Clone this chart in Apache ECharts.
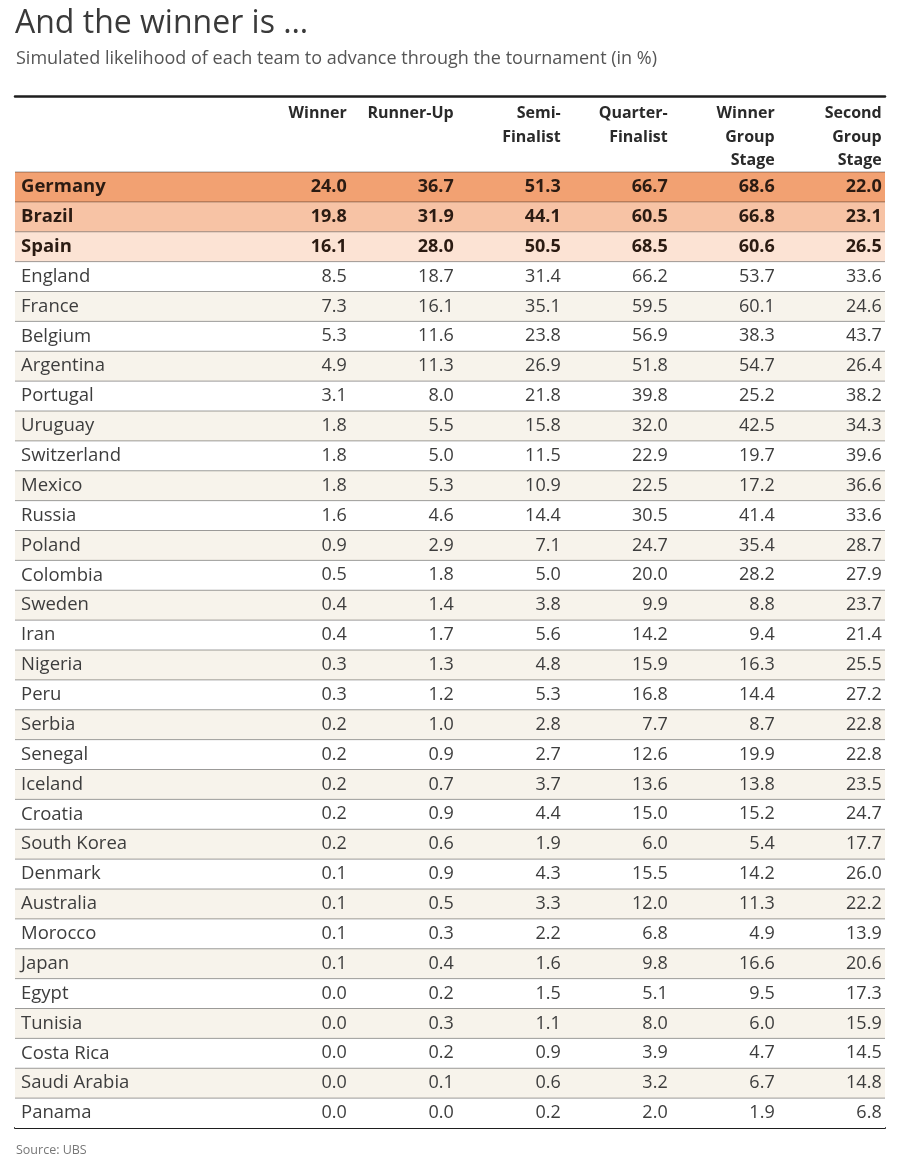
<!DOCTYPE html>
<html><head><meta charset="utf-8">
<script src="https://cdn.jsdelivr.net/npm/echarts@6/dist/echarts.min.js"></script>
<style>html,body{margin:0;padding:0;background:#fff}#chart{width:900px;height:1167px}</style>
</head><body><div id="chart"></div>
<script>
const teams = ['Germany','Brazil','Spain','England','France','Belgium','Argentina','Portugal','Uruguay','Switzerland','Mexico','Russia','Poland','Colombia','Sweden','Iran','Nigeria','Peru','Serbia','Senegal','Iceland','Croatia','South Korea','Denmark','Australia','Morocco','Japan','Egypt','Tunisia','Costa Rica','Saudi Arabia','Panama'];
const columns = ['Winner','Runner-Up','Semi-\nFinalist','Quarter-\nFinalist','Winner\nGroup\nStage','Second\nGroup\nStage'];
const winner = [24.0,19.8,16.1,8.5,7.3,5.3,4.9,3.1,1.8,1.8,1.8,1.6,0.9,0.5,0.4,0.4,0.3,0.3,0.2,0.2,0.2,0.2,0.2,0.1,0.1,0.1,0.1,0.0,0.0,0.0,0.0,0.0];
const runnerUp = [36.7,31.9,28.0,18.7,16.1,11.6,11.3,8.0,5.5,5.0,5.3,4.6,2.9,1.8,1.4,1.7,1.3,1.2,1.0,0.9,0.7,0.9,0.6,0.9,0.5,0.3,0.4,0.2,0.3,0.2,0.1,0.0];
const semiFinalist = [51.3,44.1,50.5,31.4,35.1,23.8,26.9,21.8,15.8,11.5,10.9,14.4,7.1,5.0,3.8,5.6,4.8,5.3,2.8,2.7,3.7,4.4,1.9,4.3,3.3,2.2,1.6,1.5,1.1,0.9,0.6,0.2];
const quarterFinalist = [66.7,60.5,68.5,66.2,59.5,56.9,51.8,39.8,32.0,22.9,22.5,30.5,24.7,20.0,9.9,14.2,15.9,16.8,7.7,12.6,13.6,15.0,6.0,15.5,12.0,6.8,9.8,5.1,8.0,3.9,3.2,2.0];
const winnerGroupStage = [68.6,66.8,60.6,53.7,60.1,38.3,54.7,25.2,42.5,19.7,17.2,41.4,35.4,28.2,8.8,9.4,16.3,14.4,8.7,19.9,13.8,15.2,5.4,14.2,11.3,4.9,16.6,9.5,6.0,4.7,6.7,1.9];
const secondGroupStage = [22.0,23.1,26.5,33.6,24.6,43.7,26.4,38.2,34.3,39.6,36.6,33.6,28.7,27.9,23.7,21.4,25.5,27.2,22.8,22.8,23.5,24.7,17.7,26.0,22.2,13.9,20.6,17.3,15.9,14.5,14.8,6.8];

const FONT = "'Open Sans', 'Noto Sans', sans-serif";
const highlightColors = ['#f2a172','#f7c3a5','#fce3d4'];
const stripeColor = '#f7f3eb';

function rowFill(i){
  if (i < highlightColors.length) return highlightColors[i];
  return (i % 2 === 0) ? stripeColor : '#ffffff';
}

const seriesData = teams.map((t,i)=>[0,i,winner[i],runnerUp[i],semiFinalist[i],quarterFinalist[i],winnerGroupStage[i],secondGroupStage[i]]);

function renderItem(params, api){
  const row = api.value(1);
  const cs = params.coordSys;
  const yc = api.coord([0,row])[1];
  const h = api.size([0,1])[1];
  const top = yc - h/2;
  const bold = row < highlightColors.length;
  const color = bold ? '#2b1b12' : '#3d3d3d';
  const weight = bold ? 'bold' : 'normal';
  const children = [
    {type:'rect', shape:{x:cs.x, y:top, width:cs.width, height:h}, style:{fill:rowFill(row)}},
    {type:'line', shape:{x1:cs.x, y1:top, x2:cs.x+cs.width, y2:top}, style:{stroke:'rgba(0,0,0,0.38)', lineWidth:1}},
    {type:'text', x:cs.x+6, y:yc, style:{text:teams[row], align:'left', verticalAlign:'middle', fontFamily:FONT, fontSize:18.5, fontWeight:weight, fill:color}}
  ];
  for (let k=0;k<6;k++){
    const p = api.coord([k,row]);
    children.push({type:'text', x:p[0], y:yc, style:{text:api.value(k+2).toFixed(1), align:'right', verticalAlign:'middle', fontFamily:FONT, fontSize:18, fontWeight:weight, fill:color}});
  }
  return {type:'group', children};
}

const chart = echarts.init(document.getElementById('chart'), null, {renderer:'canvas'});
chart.setOption({
  animation:false,
  backgroundColor:'#ffffff',
  title:[
    {text:'And the winner is …', left:15, top:8, padding:0, textStyle:{fontFamily:FONT, fontSize:32, fontWeight:'normal', color:'#3a3a3a'}},
    {text:'Simulated likelihood of each team to advance through the tournament (in %)', left:16, top:50, padding:0, textStyle:{fontFamily:FONT, fontSize:18, fontWeight:'normal', color:'#555555'}},
    {text:'Source: UBS', left:16, top:1144, padding:0, textStyle:{fontFamily:FONT, fontSize:12.5, fontWeight:'normal', color:'#777777'}}
  ],
  grid:{left:15, right:15, top:172, bottom:39, containLabel:false},
  xAxis:[
    {type:'value', position:'top', min:-3.1, max:5.031, offset:76,
     axisLine:{show:true, onZero:false, lineStyle:{color:'#1e1e1e', width:2.5}},
     axisTick:{show:false}, splitLine:{show:false},
     axisLabel:{show:true, inside:true, customValues:[0,1,2,3,4,5], margin:6,
       formatter:(v)=>columns[Math.round(v)] || '',
       align:'right', verticalAlign:'top', lineHeight:23.5,
       fontFamily:FONT, fontSize:16, fontWeight:'bold', color:'#2a2a2a'}},
    {type:'value', position:'bottom', min:-3.1, max:5.031,
     axisLine:{show:true, onZero:false, lineStyle:{color:'#1e1e1e', width:2}},
     axisTick:{show:false}, splitLine:{show:false}, axisLabel:{show:false}}
  ],
  yAxis:{type:'category', inverse:true, data:teams,
    axisLine:{show:false}, axisTick:{show:false}, axisLabel:{show:false}, splitLine:{show:false}},
  series:[{
    type:'custom', xAxisIndex:0, yAxisIndex:0, renderItem, data:seriesData,
    encode:{x:0, y:1}, z:1, silent:true
  }]
});
</script></body></html>
